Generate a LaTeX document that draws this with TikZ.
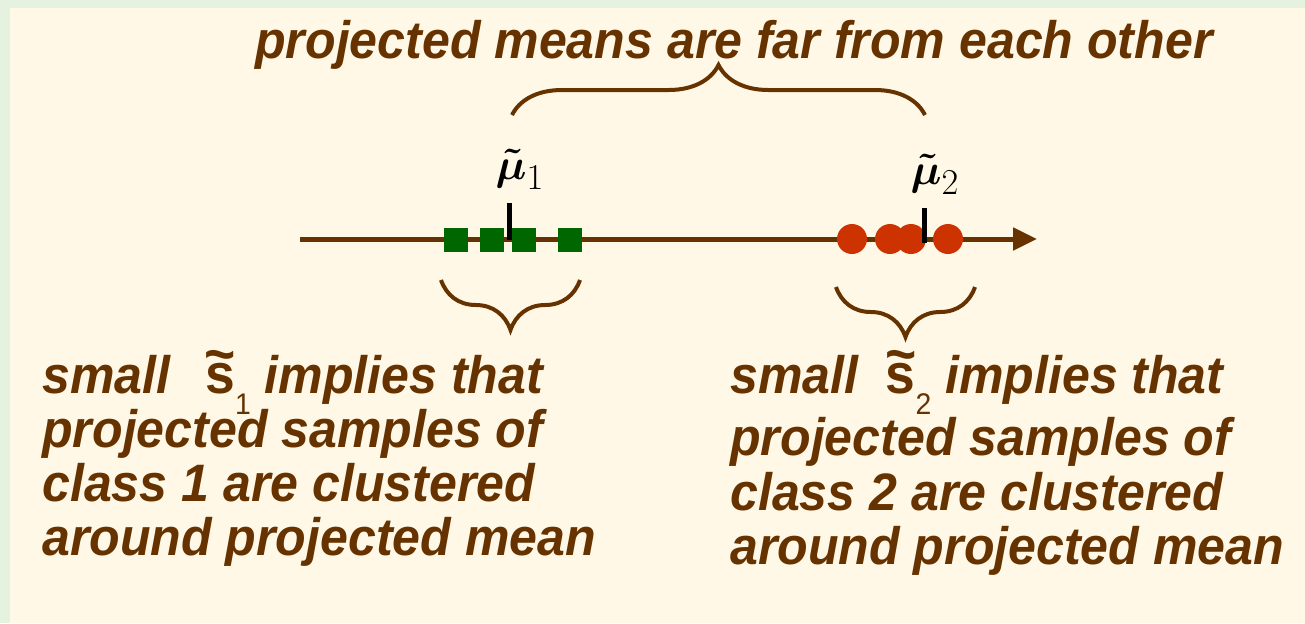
\documentclass[tikz,border=0pt]{standalone}
\usepackage{amsmath}
\usepackage{fontspec}
\setmainfont{Liberation Sans}
\newfontfamily\narrowfont[FakeStretch=0.95]{Liberation Sans}
\usetikzlibrary{shapes, arrows, arrows.meta, positioning, decorations.pathreplacing}
\definecolor{cream}{RGB}{255,248,230}
\definecolor{pale}{RGB}{230,242,224}
\definecolor{brown}{RGB}{102,51,0}
\definecolor{dkgreen}{RGB}{0,102,0}
\definecolor{redpt}{RGB}{204,51,0}
\newcommand{\stil}[1]{{\upshape\fontsize{32}{36}\selectfont\ooalign{s\cr\hidewidth\raisebox{11pt}{\~{}}\hidewidth\cr}}\raisebox{-12pt}{\mdseries\upshape\fontsize{17}{17}\selectfont #1}}

\begin{document}
\begin{tikzpicture}[x=0.02cm, y=-0.02cm]
    \tikzstyle{cls1} = [rectangle, fill=dkgreen, minimum size=0.48cm, inner sep=0pt]
    \tikzstyle{cls2} = [circle, fill=redpt, minimum size=0.6cm, inner sep=0pt]
    \tikzstyle{meanmark} = [line width=0.1cm, black]
    \tikzstyle{axis} = [line width=0.1cm, brown, -{Triangle[length=0.48cm, width=0.44cm]}]
    \tikzstyle{brace} = [decorate, decoration={brace, amplitude=1cm}, line width=0.08cm, brown]
    \tikzstyle{note} = [anchor=base west, inner sep=0pt, text=brown, font=\fontsize{30}{36}\selectfont\narrowfont\bfseries\itshape]
    \tikzstyle{meanlabel} = [anchor=base, inner sep=0pt, font=\fontsize{42}{46}\selectfont]

    % background
    \useasboundingbox (0,0) rectangle (1305,623);
    \fill [pale] (0,0) rectangle (1305,623);
    \fill [cream] (10,8) rectangle (1305,623);

    % projection axis
    \coordinate (axstart) at (300,239);
    \coordinate (axend) at (1037,239);
    \draw [axis] (axstart) -- (axend);

    % class 1 samples
    \node [cls1] (a1) at (456,240) {};
    \node [cls1] (a2) at (492,240) {};
    \node [cls1] (a3) at (524,240) {};
    \node [cls1] (a4) at (570,240) {};

    % class 2 samples
    \node [cls2] (b1) at (852,239) {};
    \node [cls2] (b2) at (890,239) {};
    \node [cls2] (b3) at (911,239) {};
    \node [cls2] (b4) at (948,239) {};

    % projected means
    \coordinate (m1top) at (509,203);
    \coordinate (m1bot) at (509,240);
    \coordinate (m2top) at (924,208);
    \coordinate (m2bot) at (924,243);
    \draw [meanmark] (m1top) -- (m1bot);
    \draw [meanmark] (m2top) -- (m2bot);
    \node [meanlabel] (mu1) at (520,179) {$\boldsymbol{\tilde{\mu}}_{\scriptscriptstyle 1}$};
    \node [meanlabel] (mu2) at (935,184) {$\boldsymbol{\tilde{\mu}}_{\scriptscriptstyle 2}$};

    % braces
    \coordinate (tb1) at (512,115);
    \coordinate (tb2) at (925,115);
    \coordinate (lb1) at (580,280);
    \coordinate (lb2) at (441,280);
    \coordinate (rb1) at (975,287);
    \coordinate (rb2) at (836,287);
    \draw [brace] (tb1) -- (tb2);
    \draw [brace] (lb1) -- (lb2);
    \draw [brace] (rb1) -- (rb2);

    % texts
    \node [anchor=base, inner sep=0pt, text=brown, font=\fontsize{30}{36}\selectfont\narrowfont\bfseries\itshape] (head) at (734,58) {projected means are far from each other};

    \node [note] (l1) at (42,393) {small\hspace{0.7cm}\stil{1} implies that};
    \node [note] (l2) at (42,447) {projected samples of};
    \node [note] (l3) at (42,501) {class 1 are clustered};
    \node [note] (l4) at (42,555) {around projected mean};

    \node [note] (r1) at (730,393) {small\hspace{0.55cm}\stil{2} implies that};
    \node [note] (r2) at (730,455) {projected samples of};
    \node [note] (r3) at (730,510) {class 2 are clustered};
    \node [note] (r4) at (730,564) {around projected mean};
\end{tikzpicture}
\end{document}
